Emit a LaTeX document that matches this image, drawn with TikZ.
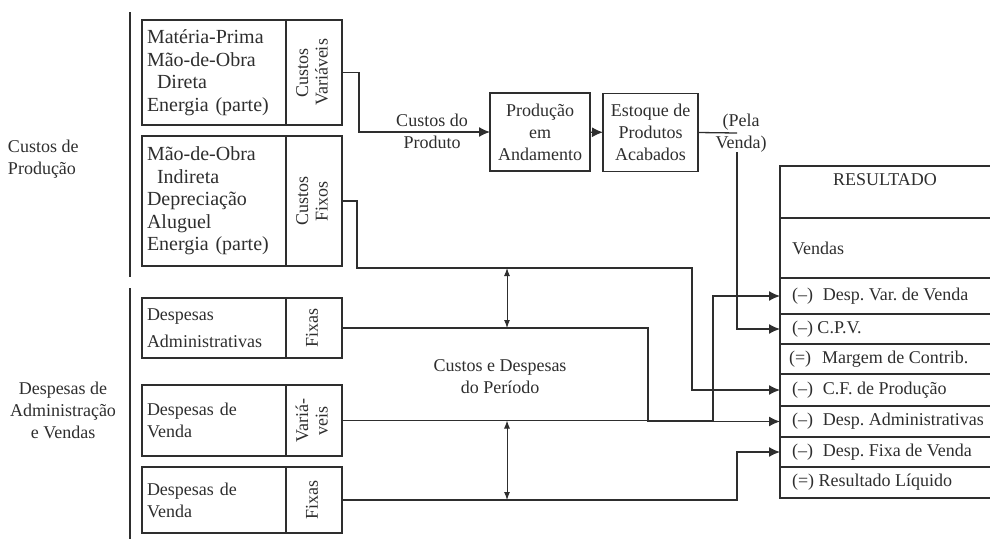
\documentclass[tikz,border=0pt]{standalone}
\usepackage{graphicx}
\usepackage{fontspec}
\setmainfont{Liberation Serif}
\usetikzlibrary{arrows.meta}
\definecolor{ink}{gray}{0.18}
\newcommand{\rotlab}[1]{\rotatebox{90}{\def\arraystretch{0.88}\begin{tabular}{@{}c@{}}#1\end{tabular}}}
\newcommand{\rowtext}[1]{\makebox[186pt][l]{#1}}
\frenchspacing

\begin{document}
\begin{tikzpicture}[x=1pt, y=-1pt, line width=1.3pt, color=ink,
  font=\fontsize{18}{22}\selectfont,
  every node/.style={inner sep=0pt, outer sep=0pt},
  txtbox/.style={draw, text width=134pt, inner xsep=5pt, align=left},
  bigtxt/.style={font=\fontsize{20}{22.5}\selectfont},
  labbox/.style={draw, minimum width=56pt},
  procbox/.style={draw, align=center},
  row/.style={minimum width=210pt, inner xsep=12pt},
  arr/.style={-{Latex[length=11pt,width=10pt]}},
  dbl/.style={{Latex[length=8pt,width=6pt]}-{Latex[length=8pt,width=6pt]}, line width=1pt}]
\useasboundingbox (0,0) rectangle (990,539);

\node[anchor=west, align=left] (cprod) at (8,159) {Custos de\\Produção};
\node[align=center] (dav) at (63,410) {Despesas de\\Administração\\e Vendas};
\draw (130,12) -- (130,277);
\draw (130,288) -- (130,539);

\node[txtbox, bigtxt, minimum height=105pt] (mp) at (214,72.5) {Matéria-Prima\\Mão-de-Obra\\\hspace*{10pt}Direta\\Energia (parte)};
\node[labbox, minimum height=105pt] (cv) at (314,72.5) {\rotlab{Custos\\Variáveis}};
\node[txtbox, bigtxt, minimum height=130pt] (mo) at (214,201) {Mão-de-Obra\\\hspace*{10pt}Indireta\\Depreciação\\Aluguel\\Energia (parte)};
\node[labbox, minimum height=130pt] (cf) at (314,201) {\rotlab{Custos\\Fixos}};

\node[txtbox, minimum height=60pt] (dadmin) at (214,328) {Despesas\\[5pt]Administrativas};
\node[labbox, minimum height=60pt] (da) at (314,328) {\rotlab{Fixas}};
\node[txtbox, minimum height=71pt] (dvenda) at (214,420.5) {Despesas de\\Venda};
\node[labbox, minimum height=71pt] (dv) at (314,420.5) {\rotlab{Variá-\\veis}};
\node[txtbox, minimum height=66pt] (dfixa) at (214,500) {Despesas de\\Venda};
\node[labbox, minimum height=66pt] (df) at (314,500) {\rotlab{Fixas}};

\node[align=center] (cprodlab) at (432,131) {Custos do\\Produto};
\node[procbox, minimum width=100pt, minimum height=78pt] (prod) at (540,132) {Produção\\em\\Andamento};
\node[procbox, minimum width=95pt, minimum height=78pt] (estoque) at (650.5,132.5) {Estoque de\\Produtos\\Acabados};
\node[align=center] (pela) at (741,133) {(Pela\\Venda)};
\node[align=center] (cdp) at (500,377) {Custos e Despesas\\do Período};

\node[row, minimum height=52pt] (head) at (885,192) {\makebox[186pt]{\raisebox{24pt}{RESULTADO}}};
\node[row, minimum height=60pt] (vendas) at (885,248) {\rowtext{Vendas}};
\node[row, minimum height=36pt] (dvv) at (885,296) {\rowtext{(–)\hspace{10pt}Desp. Var. de Venda}};
\node[row, minimum height=30pt] (cpv) at (885,329) {\rowtext{(–) C.P.V.}};
\node[row, minimum height=30pt] (margem) at (885,359) {\rowtext{\hspace*{-3pt}(=)\hspace{11pt}Margem de Contrib.}};
\node[row, minimum height=32pt] (cfp) at (885,390) {\rowtext{(–)\hspace{10pt}C.F. de Produção}};
\node[row, minimum height=31pt] (dadm) at (885,421.5) {\rowtext{(–)\hspace{10pt}Desp. Administrativas}};
\node[row, minimum height=30pt] (dfv) at (885,452) {\rowtext{(–)\hspace{10pt}Desp. Fixa de Venda}};
\node[row, minimum height=31pt] (reslq) at (885,482.5) {\rowtext{(=) Resultado Líquido}};
\foreach \r in {head,vendas,dvv,cpv,margem,cfp,dadm,dfv,reslq}
  \draw (\r.north east) -- (\r.north west) -- (\r.south west) -- (\r.south east);

\coordinate (cfBend) at (692,268);
\coordinate (upA) at (507,268);

\draw[arr] (cv.east) -- ++(17,0) |- (prod.west);
\draw[arr] (prod) -- (estoque);
\draw (estoque.east) -- ([xshift=-4pt]pela.center);
\draw[arr] ([xshift=-4pt]pela.south) |- (cpv.west);
\draw[arr] (cf.east) -- ++(15,0) |- (cfBend) |- (cfp.west);
\draw[arr] (da.east) -| ([xshift=-132pt]dadm.west) -- (dadm.west);
\draw[arr] (dv.east) -| ([xshift=-67pt]dvv.west) -- (dvv.west);
\draw[arr] (df.east) -| ([xshift=-43pt]dfv.west) -- (dfv.west);
\draw[dbl] (upA) -- (upA |- da.east);
\draw[dbl] (upA |- dv.east) -- (upA |- df.east);
\end{tikzpicture}
\end{document}
